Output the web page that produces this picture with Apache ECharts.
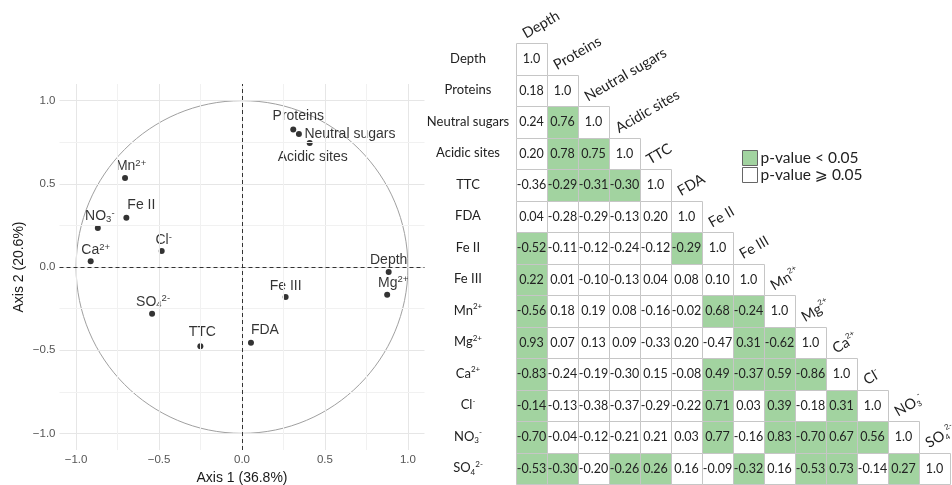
<!DOCTYPE html>
<html>
<head>
<meta charset="utf-8">
<script src="https://cdn.jsdelivr.net/npm/echarts@6/dist/echarts.min.js"></script>
<style>
  html, body { margin: 0; padding: 0; background: #ffffff; }
  #chart { width: 952px; height: 485px; }
</style>
</head>
<body>
<div id="chart"></div>
<script>
// Variables shared by the PCA loadings and the correlation matrix
const variables = ['Depth', 'Proteins', 'Neutral sugars', 'Acidic sites', 'TTC', 'FDA',
  'Fe II', 'Fe III', 'Mn2+', 'Mg2+', 'Ca2+', 'Cl-', 'NO3-', 'SO42-'];

// PCA variable coordinates on the first two axes
const axis1Scores = [0.884, 0.309, 0.343, 0.408, -0.251, 0.054, -0.697, 0.263, -0.705, 0.875, -0.912, -0.484, -0.869, -0.542];
const axis2Scores = [-0.030, 0.826, 0.800, 0.746, -0.477, -0.455, 0.296, -0.180, 0.535, -0.167, 0.034, 0.096, 0.234, -0.281];

// Axis tick labels and grid positions of the PCA panel
const axisTicks = [-1, -0.5, 0, 0.5, 1];
const minorTicks = [-0.75, -0.25, 0.25, 0.75];

// Lower triangle of the correlation matrix (row by row)
const corrRows = [
  [1.0],
  [0.18, 1.0],
  [0.24, 0.76, 1.0],
  [0.20, 0.78, 0.75, 1.0],
  [-0.36, -0.29, -0.31, -0.30, 1.0],
  [0.04, -0.28, -0.29, -0.13, 0.20, 1.0],
  [-0.52, -0.11, -0.12, -0.24, -0.12, -0.29, 1.0],
  [0.22, 0.01, -0.10, -0.13, 0.04, 0.08, 0.10, 1.0],
  [-0.56, 0.18, 0.19, 0.08, -0.16, -0.02, 0.68, -0.24, 1.0],
  [0.93, 0.07, 0.13, 0.09, -0.33, 0.20, -0.47, 0.31, -0.62, 1.0],
  [-0.83, -0.24, -0.19, -0.30, 0.15, -0.08, 0.49, -0.37, 0.59, -0.86, 1.0],
  [-0.14, -0.13, -0.38, -0.37, -0.29, -0.22, 0.71, 0.03, 0.39, -0.18, 0.31, 1.0],
  [-0.70, -0.04, -0.12, -0.21, 0.21, 0.03, 0.77, -0.16, 0.83, -0.70, 0.67, 0.56, 1.0],
  [-0.53, -0.30, -0.20, -0.26, 0.26, 0.16, -0.09, -0.32, 0.16, -0.53, 0.73, -0.14, 0.27, 1.0]
];

// 1 where the correlation p-value is below 0.05
const sigRows = [
  [0],
  [0, 0],
  [0, 1, 0],
  [0, 1, 1, 0],
  [0, 1, 1, 1, 0],
  [0, 0, 0, 0, 0, 0],
  [1, 0, 0, 0, 0, 1, 0],
  [1, 0, 0, 0, 0, 0, 0, 0],
  [1, 0, 0, 0, 0, 0, 1, 1, 0],
  [1, 0, 0, 0, 0, 0, 0, 1, 1, 0],
  [1, 0, 0, 0, 0, 0, 1, 1, 1, 1, 0],
  [1, 0, 0, 0, 0, 0, 1, 0, 1, 0, 1, 0],
  [1, 0, 0, 0, 0, 0, 1, 0, 1, 1, 1, 1, 0],
  [1, 1, 0, 1, 1, 0, 0, 1, 0, 1, 1, 0, 1, 0]
];

const legendNames = ['p-value < 0.05', 'p-value \u2A7E 0.05'];

// ---- styling ----
const FONT_PLOT = '"Liberation Sans", Arial, sans-serif';
const FONT_MAT = 'Lato, "DejaVu Sans", sans-serif';
const GREEN = '#a2d3a0';
const CELL_BORDER = '#c6c6c6';

// chemical formulas rendered with sub/superscripts
const chemRich = {
  'Mn2+': 'Mn{sup|2+}', 'Mg2+': 'Mg{sup|2+}', 'Ca2+': 'Ca{sup|2+}',
  'Cl-': 'Cl{sup|-}', 'NO3-': 'NO{sub|3}{sup|-}', 'SO42-': 'SO{sub|4}{sup|2-}'
};
const richName = n => chemRich[n] || n;
const scriptStyles = size => ({
  sup: { fontSize: size, lineHeight: size, verticalAlign: 'top' },
  sub: { fontSize: size, lineHeight: size, verticalAlign: 'bottom' }
});

// label nudges (pixels) for the PCA point labels
const labelNudge = {
  'Depth': [0, -12], 'Proteins': [5, -13], 'Neutral sugars': [51, 0], 'Acidic sites': [3, 14],
  'TTC': [2, -14], 'FDA': [14, -13], 'Fe II': [15, -13], 'Fe III': [0, -11],
  'Mn2+': [6, -12], 'Mg2+': [6, -12], 'Ca2+': [5, -11], 'Cl-': [2, -11],
  'NO3-': [2, -12], 'SO42-': [1, -12]
};

const pcaPoints = variables.map((name, i) => ({
  name: name,
  value: [axis1Scores[i], axis2Scores[i]],
  label: { offset: labelNudge[name] }
}));

// matrix cells split by significance
const sigCells = [], nsCells = [];
corrRows.forEach((row, r) => {
  row.forEach((v, c) => {
    (sigRows[r][c] ? sigCells : nsCells).push([c, r, v]);
  });
});

const fmtCorr = v => (v === 1 ? '1.0' : v.toFixed(2));

function renderCell(fill) {
  return function (params, api) {
    const col = api.value(0), row = api.value(1), v = api.value(2);
    const c = api.coord([col, row]);
    const s = api.size([1, 1]);
    const x0 = Math.round(c[0] - s[0] / 2) + 0.5;
    const y0 = Math.round(c[1] - s[1] / 2) + 0.5;
    const x1 = Math.round(c[0] + s[0] / 2) + 0.5;
    const y1 = Math.round(c[1] + s[1] / 2) + 0.5;
    return {
      type: 'group',
      children: [
        { type: 'rect', shape: { x: x0, y: y0, width: x1 - x0, height: y1 - y0 },
          style: { fill: fill, stroke: CELL_BORDER, lineWidth: 1 } },
        { type: 'text', x: c[0], y: c[1] + 0.5,
          style: { text: fmtCorr(v), align: 'center', verticalAlign: 'middle',
                   fontFamily: FONT_MAT, fontSize: 12.5, fill: '#222' } }
      ]
    };
  };
}

function renderHeader(params, api) {
  const i = api.value(0);
  const c = api.coord([i, i]);
  const s = api.size([1, 1]);
  return {
    type: 'text',
    x: c[0] - s[0] / 2 + 12,
    y: c[1] - s[1] / 2 - 1,
    rotation: Math.PI / 6,
    style: {
      text: richName(variables[i]),
      align: 'left', verticalAlign: 'bottom',
      fontFamily: FONT_MAT, fontSize: 14.5, lineHeight: 17, fill: '#222',
      rich: scriptStyles(8)
    }
  };
}

function renderUnitCircle(params, api) {
  const c = api.coord([api.value(0), api.value(1)]);
  const r = api.value(2);
  const sz = api.size([r, r]);
  return {
    type: 'ellipse',
    shape: { cx: c[0], cy: c[1], rx: sz[0], ry: sz[1] },
    style: { fill: null, stroke: '#a0a0a0', lineWidth: 1 }
  };
}

const gridLineData = axisTicks.map(v => ({ xAxis: v, lineStyle: { color: '#e6e6e6' } }))
  .concat(axisTicks.map(v => ({ yAxis: v, lineStyle: { color: '#e6e6e6' } })))
  .concat(minorTicks.map(v => ({ xAxis: v, lineStyle: { color: '#f1f1f1' } })))
  .concat(minorTicks.map(v => ({ yAxis: v, lineStyle: { color: '#f1f1f1' } })));

const tickFmt = v => (v < 0 ? '\u2212' + Math.abs(v).toFixed(1) : v.toFixed(1));

const chart = echarts.init(document.getElementById('chart'), null, { renderer: 'canvas' });

chart.setOption({
  animation: false,
  backgroundColor: '#ffffff',
  grid: [
    { left: 59.5, top: 84, width: 365, height: 366, containLabel: false, outerBoundsMode: 'none' },
    { left: 516, top: 43, width: 434, height: 441, containLabel: false, outerBoundsMode: 'none' }
  ],
  legend: {
    orient: 'vertical', left: 737, top: 145,
    itemWidth: 15, itemHeight: 15, itemGap: 1, icon: 'rect',
    selectedMode: false,
    textStyle: { fontFamily: FONT_MAT, fontSize: 15.5, color: '#222', padding: [0, 0, 0, -2] },
    data: [
      { name: legendNames[0], itemStyle: { color: GREEN, borderColor: '#666', borderWidth: 1 } },
      { name: legendNames[1], itemStyle: { color: '#ffffff', borderColor: '#666', borderWidth: 1 } }
    ]
  },
  xAxis: [
    {
      gridIndex: 0, type: 'value', min: -1.1, max: 1.1,
      name: 'Axis 1 (36.8%)', nameLocation: 'middle', nameGap: 17,
      nameTextStyle: { fontFamily: FONT_PLOT, fontSize: 14, color: '#1a1a1a' },
      axisLine: { show: false },
      axisTick: { show: true, length: 3, customValues: axisTicks, lineStyle: { color: '#444' } },
      axisLabel: { customValues: axisTicks, formatter: tickFmt, margin: 4,
                   fontFamily: FONT_PLOT, fontSize: 11.5, color: '#555' },
      splitLine: { show: false }
    },
    {
      gridIndex: 1, type: 'category', data: variables, show: false
    }
  ],
  yAxis: [
    {
      gridIndex: 0, type: 'value', min: -1.1, max: 1.1,
      name: 'Axis 2 (20.6%)', nameLocation: 'middle', nameGap: 33,
      nameTextStyle: { fontFamily: FONT_PLOT, fontSize: 14, color: '#1a1a1a' },
      axisLine: { show: false },
      axisTick: { show: true, length: 3, customValues: axisTicks, lineStyle: { color: '#444' } },
      axisLabel: { customValues: axisTicks, formatter: tickFmt, margin: 4,
                   fontFamily: FONT_PLOT, fontSize: 11.5, color: '#555' },
      splitLine: { show: false }
    },
    {
      gridIndex: 1, type: 'category', data: variables, inverse: true,
      axisLine: { show: false }, axisTick: { show: false }, splitLine: { show: false },
      axisLabel: {
        align: 'center', margin: 48,
        formatter: v => richName(v),
        fontFamily: FONT_MAT, fontSize: 13, lineHeight: 16, color: '#222',
        rich: scriptStyles(8)
      }
    }
  ],
  series: [
    {
      // background grid of the PCA panel
      type: 'scatter', xAxisIndex: 0, yAxisIndex: 0, data: [], z: 0, silent: true,
      markLine: {
        silent: true, symbol: ['none', 'none'], label: { show: false },
        lineStyle: { type: 'solid', width: 1 },
        data: gridLineData
      }
    },
    {
      // correlation circle
      type: 'custom', xAxisIndex: 0, yAxisIndex: 0, z: 1, silent: true,
      renderItem: renderUnitCircle,
      data: [[0, 0, 1]]
    },
    {
      type: 'scatter', xAxisIndex: 0, yAxisIndex: 0, z: 3,
      symbol: 'circle', symbolSize: 6,
      itemStyle: { color: '#000000' },
      label: {
        show: true, position: 'inside', align: 'center', verticalAlign: 'middle',
        formatter: p => richName(p.name),
        fontFamily: FONT_PLOT, fontSize: 14, lineHeight: 16, color: '#000',
        rich: scriptStyles(9.5)
      },
      data: pcaPoints,
      markLine: {
        silent: true, symbol: ['none', 'none'], label: { show: false },
        lineStyle: { type: [4, 3], color: '#333', width: 1 },
        data: [{ xAxis: 0 }, { yAxis: 0 }]
      }
    },
    {
      name: legendNames[0], type: 'custom', xAxisIndex: 1, yAxisIndex: 1,
      itemStyle: { color: GREEN }, renderItem: renderCell(GREEN), data: sigCells
    },
    {
      name: legendNames[1], type: 'custom', xAxisIndex: 1, yAxisIndex: 1,
      itemStyle: { color: '#ffffff' }, renderItem: renderCell('#ffffff'), data: nsCells
    },
    {
      // column headers above each diagonal cell
      type: 'custom', xAxisIndex: 1, yAxisIndex: 1, silent: true,
      renderItem: renderHeader,
      data: variables.map((_, i) => [i, i])
    }
  ]
});
</script>
</body>
</html>
